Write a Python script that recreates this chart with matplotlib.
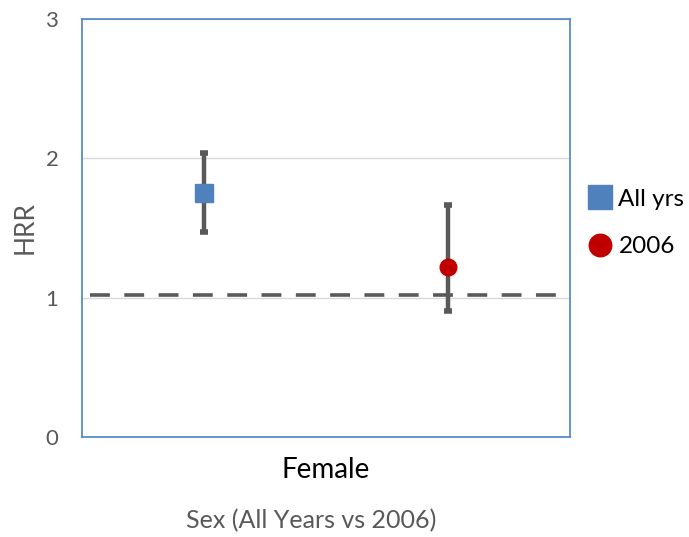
import matplotlib.pyplot as plt

# Data
series = ["All yrs", "2006"]
x_pos = [0.25, 0.75]
hrr = [1.75, 1.22]
ci_low = [1.47, 0.905]
ci_high = [2.04, 1.665]
ref_line = 1.02
category = "Female"

plt.rcParams["font.family"] = ["Lato", "DejaVu Sans"]

fig = plt.figure(figsize=(6.89, 5.37), dpi=100)
ax = fig.add_axes([0.119, 0.186, 0.708, 0.779])

# reference line (dashed)
ax.plot([0.016, 0.98], [ref_line, ref_line], color="#595959", lw=2.6,
        dashes=(5.5, 4), zorder=2)

styles = [("s", "#4F81BD", 12.5), ("o", "#C00000", 12)]
for i, name in enumerate(series):
    m, c, ms = styles[i]
    err = [[hrr[i] - ci_low[i]], [ci_high[i] - hrr[i]]]
    ax.errorbar([x_pos[i]], [hrr[i]], yerr=err, fmt="none", ecolor="#595959",
                elinewidth=3.2, capsize=3, capthick=4, zorder=3)
    ax.plot([x_pos[i]], [hrr[i]], marker=m, color=c, ms=ms, ls="none",
            label=name, zorder=4)

ax.set_xlim(0, 1)
ax.set_ylim(0, 3)
ax.set_yticks([0, 1, 2, 3])
ax.set_xticks([0.5])
ax.set_xticklabels([category], fontsize=20, color="black")
ax.tick_params(axis="y", length=0, labelsize=16, labelcolor="#595959", pad=17)
ax.tick_params(axis="x", length=0, pad=14)
ax.grid(axis="y", color="#D9D9D9", lw=1)
ax.set_axisbelow(True)
for s in ax.spines.values():
    s.set_color("#5B8BC9")
    s.set_linewidth(1.3)

ax.set_ylabel("HRR", fontsize=19, color="#595959", labelpad=6)
ax.set_xlabel("Sex (All Years vs 2006)", fontsize=18, color="#595959", labelpad=19)
ax.xaxis.label.set_x(0.469)  # title sits a bit left of centre in the original

leg = ax.legend(loc="center left", bbox_to_anchor=(1.0, 0.512), frameon=False,
                fontsize=17.5, handlelength=0.9, handletextpad=0.3, labelspacing=1.1,
                markerscale=1.35, borderaxespad=0.4)

fig.savefig("out.png", dpi=100)
